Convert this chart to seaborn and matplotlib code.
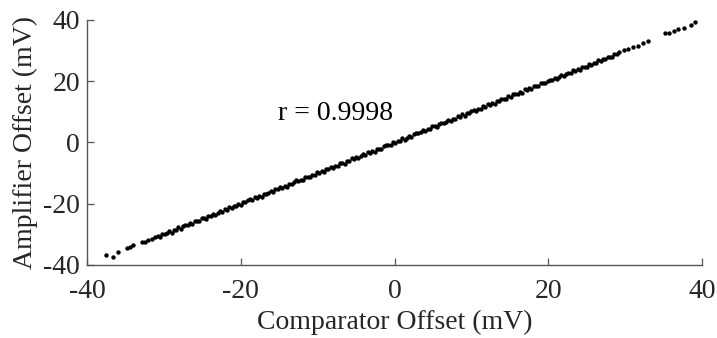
import matplotlib
matplotlib.use("Agg")
import matplotlib.pyplot as plt
import seaborn as sns
import pandas as pd

# Comparator offset (x, mV) and amplifier offset (y, mV)
comparator_low = [-37.5, -36.6, -36.0, -34.8, -34.4, -34.0, -32.8, -32.4, -32.0, -31.5, -31.2]
amplifier_low = [-36.7, -37.3, -35.9, -34.5, -34.2, -33.6, -32.6, -32.4, -31.8, -31.5, -30.9]

comparator_mid = [
    -30.8, -30.5, -30.2, -29.9, -29.6, -29.3, -29.0, -28.7, -28.4, -28.1,
    -27.8, -27.5, -27.2, -26.9, -26.6, -26.3, -26.0, -25.7, -25.4, -25.1,
    -24.8, -24.5, -24.2, -23.9, -23.6, -23.3, -23.0, -22.7, -22.4, -22.1,
    -21.8, -21.5, -21.2, -20.9, -20.6, -20.3, -20.0, -19.7, -19.4, -19.1,
    -18.8, -18.5, -18.2, -17.9, -17.6, -17.3, -17.0, -16.7, -16.4, -16.1,
    -15.8, -15.5, -15.2, -14.9, -14.6, -14.3, -14.0, -13.7, -13.4, -13.1,
    -12.8, -12.5, -12.2, -11.9, -11.6, -11.3, -11.0, -10.7, -10.4, -10.1,
    -9.8, -9.5, -9.2, -8.9, -8.6, -8.3, -8.0, -7.7, -7.4, -7.1,
    -6.8, -6.5, -6.2, -5.9, -5.6, -5.3, -5.0, -4.7, -4.4, -4.1,
    -3.8, -3.5, -3.2, -2.9, -2.6, -2.3, -2.0, -1.7, -1.4, -1.1,
    -0.8, -0.5, -0.2, 0.1, 0.4, 0.7, 1.0, 1.3, 1.6, 1.9,
    2.2, 2.5, 2.8, 3.1, 3.4, 3.7, 4.0, 4.3, 4.6, 4.9,
    5.2, 5.5, 5.8, 6.1, 6.4, 6.7, 7.0, 7.3, 7.6, 7.9,
    8.2, 8.5, 8.8, 9.1, 9.4, 9.7, 10.0, 10.3, 10.6, 10.9,
    11.2, 11.5, 11.8, 12.1, 12.4, 12.7, 13.0, 13.3, 13.6, 13.9,
    14.2, 14.5, 14.8, 15.1, 15.4, 15.7, 16.0, 16.3, 16.6, 16.9,
    17.2, 17.5, 17.8, 18.1, 18.4, 18.7, 19.0, 19.3, 19.6, 19.9,
    20.2, 20.5, 20.8, 21.1, 21.4, 21.7, 22.0, 22.3, 22.6, 22.9,
    23.2, 23.5, 23.8, 24.1, 24.4, 24.7, 25.0, 25.3, 25.6, 25.9,
    26.2, 26.5, 26.8, 27.1, 27.4, 27.7, 28.0, 28.3, 28.6, 28.9,
    29.2,
]
amplifier_mid = [
    -30.6, -30.8, -29.8, -30.0, -29.6, -29.0, -29.4, -28.6, -28.6, -27.7,
    -28.1, -27.4, -26.8, -27.1, -26.4, -26.7, -25.7, -25.7, -25.5, -24.7,
    -24.7, -24.9, -23.9, -24.0, -23.2, -23.6, -23.0, -22.5, -22.6, -21.8,
    -22.0, -21.1, -21.5, -20.8, -20.7, -20.0, -20.4, -19.5, -19.4, -18.8,
    -18.6, -18.8, -17.8, -18.0, -17.5, -17.7, -16.7, -16.7, -16.6, -15.7,
    -16.1, -15.3, -15.2, -14.5, -14.8, -14.2, -14.4, -13.4, -13.5, -12.9,
    -12.4, -12.7, -12.1, -12.2, -11.3, -11.3, -11.4, -10.5, -10.5, -9.8,
    -9.9, -9.2, -9.6, -8.7, -8.6, -7.9, -8.3, -7.6, -7.6, -6.8,
    -6.6, -6.9, -5.9, -6.0, -5.2, -5.5, -4.9, -5.0, -4.4, -3.8,
    -4.0, -3.1, -3.3, -2.7, -3.0, -2.0, -2.0, -2.0, -1.3, -0.7,
    -0.7, -0.8, 0.2, -0.1, 0.6, 0.6, 1.3, 0.9, 1.6, 2.2,
    1.9, 2.7, 3.2, 3.0, 3.4, 4.0, 3.6, 4.4, 4.4, 5.3,
    5.4, 5.2, 5.9, 6.5, 6.2, 6.7, 7.3, 6.9, 7.8, 7.8,
    8.5, 8.3, 9.2, 8.7, 9.5, 9.6, 10.2, 10.7, 10.3, 10.9,
    11.0, 11.8, 11.7, 12.5, 12.1, 12.8, 12.6, 13.5, 13.6, 14.2,
    14.3, 14.1, 15.1, 14.9, 15.8, 15.7, 15.9, 16.5, 16.3, 17.3,
    17.1, 17.7, 17.5, 18.5, 18.4, 18.3, 19.3, 19.4, 19.4, 20.2,
    20.4, 20.3, 21.2, 20.8, 21.5, 22.0, 21.6, 22.3, 22.8, 22.8,
    23.5, 23.4, 24.0, 23.7, 24.8, 24.7, 24.8, 25.6, 25.3, 26.0,
    26.0, 26.9, 26.7, 27.3, 27.1, 28.0, 28.0, 27.9, 28.8, 29.0,
    29.4,
]

comparator_high = [29.8, 30.4, 31.0, 31.6, 32.3, 33.0, 35.2, 35.7, 36.3, 36.9, 37.6, 38.5, 39.1]
amplifier_high = [30.2, 30.5, 31.3, 31.5, 32.6, 33.2, 35.6, 35.8, 36.4, 37.0, 37.4, 38.4, 39.2]

ticks = [-40, -20, 0, 20, 40]
tick_labels = ["-40", "-20", "0", "20", "40"]
r_label = "r = 0.9998"

df = pd.DataFrame({
    "Comparator Offset (mV)": comparator_low + comparator_mid + comparator_high,
    "Amplifier Offset (mV)": amplifier_low + amplifier_mid + amplifier_high,
})

sns.set_style("ticks")
plt.rcParams["font.family"] = ["Liberation Serif", "DejaVu Serif"]
plt.rcParams["axes.unicode_minus"] = False

fig = plt.figure(figsize=(7.17, 3.38), dpi=100)
ax = fig.add_axes([0.1213, 0.216, 0.858, 0.725])

sns.scatterplot(data=df, x="Comparator Offset (mV)", y="Amplifier Offset (mV)",
                ax=ax, color="black", s=10, linewidth=0, legend=False)

ax.set_xlim(-40, 40)
ax.set_ylim(-40, 40)
ax.set_xticks(ticks)
ax.set_xticklabels(tick_labels)
ax.set_yticks(ticks)
ax.set_yticklabels(tick_labels)

spine_color = "#555555"
for side in ["top", "right"]:
    ax.spines[side].set_visible(False)
for side in ["left", "bottom"]:
    ax.spines[side].set_color(spine_color)
    ax.spines[side].set_linewidth(1.0)

ax.tick_params(direction="in", length=5, width=0.9, color=spine_color,
               labelsize=20, labelcolor="#262626")
ax.tick_params(axis="x", pad=10)
ax.tick_params(axis="y", pad=5)
ax.set_xlabel("Comparator Offset (mV)", fontsize=20, color="#262626", labelpad=4)
ax.set_ylabel("Amplifier Offset (mV)", fontsize=20, color="#262626", labelpad=4)

ax.text(-15.2, 9.6, r_label, fontsize=20, color="black", ha="left", va="center")

fig.savefig("out.png", dpi=100)
